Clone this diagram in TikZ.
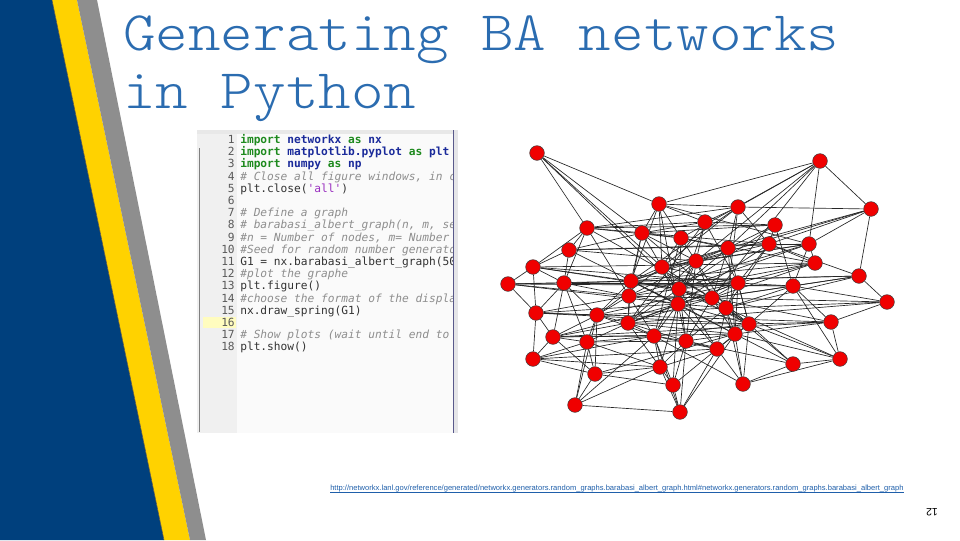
\documentclass[tikz,border=0pt]{standalone}
\usepackage{fontspec}
\setmainfont{Liberation Sans}
\newfontfamily\codefont{DejaVu Sans Mono}
\newfontfamily\titlefont{Latin Modern Mono Light}
\usetikzlibrary{backgrounds}
\definecolor{navyband}{HTML}{00407D}
\definecolor{yellowband}{HTML}{FFD200}
\definecolor{grayband}{HTML}{8E8E8E}
\definecolor{titleblue}{HTML}{2B6CB0}
\definecolor{kwgreen}{HTML}{1E8A1E}
\definecolor{modblue}{HTML}{1A2A9A}
\definecolor{cmgray}{HTML}{8E8E8E}
\definecolor{strpurple}{HTML}{9A30C0}
\definecolor{urlblue}{HTML}{1F5FAA}
\definecolor{vred}{HTML}{F00000}
\newcommand\codekw[1]{\textcolor{kwgreen}{\bfseries #1}}
\newcommand\codemod[1]{\textcolor{modblue}{\bfseries #1}}
\newcommand\codecm[1]{\textcolor{cmgray}{\itshape #1}}
\newcommand\codestr[1]{\textcolor{strpurple}{#1}}
\tikzset{
  vtx/.style={circle,fill=vred,draw=black!75,line width=0.4pt,inner sep=0pt,minimum size=11pt},
  edge/.style={draw=black!85,line width=0.5pt},
  codeline/.style={anchor=base west,inner sep=0pt,font=\codefont\fontsize{8.4}{9}\selectfont,text=black!80},
  lineno/.style={anchor=base east,inner sep=0pt,font=\codefont\fontsize{8.4}{9}\selectfont,text=black!65},
  titletext/.style={anchor=base west,inner sep=0pt,font=\titlefont\fontsize{46.5}{50}\selectfont,text=titleblue}
}
\begin{document}
\begin{tikzpicture}[x=0.75pt,y=-0.75pt]
\useasboundingbox (0,0) rectangle (960,540);
% left bands
\fill[navyband] (0,0) -- (52,0) -- (164,540) -- (0,540) -- cycle;
\fill[yellowband] (52,0) -- (77,0) -- (190,540) -- (164,540) -- cycle;
\fill[grayband] (77,0) -- (97,0) -- (206,540) -- (190,540) -- cycle;
\draw[black!70,line width=0.4pt] (52,0) -- (164,540);
% title
\node[titletext] (t1) at (123,50) {\scalebox{1}[0.9]{Generating BA networks}};
\node[titletext] (t2) at (123,108) {\scalebox{1}[0.9]{in Python}};
% code panel
\fill[black!6] (197,130) rectangle (237,433);
\fill[black!2] (237,130) rectangle (453,433);
\fill[black!9] (197,130) rectangle (453,134);
\fill[yellow!25] (203,317) rectangle (236,328);
\draw[black!50,line width=0.8pt] (199.5,148) -- (199.5,432);
\fill[blue!10!black!10] (454,130) rectangle (458,433);
\draw[blue!30!black!65,line width=1.3pt] (453.5,130) -- (453.5,433);
\begin{scope}
\clip (197,130) rectangle (452.5,433);
\foreach \n in {1,...,18} {
  \node[lineno] (ln\n) at (235,{143.5+(\n-1)*12.2}) {\n};
}
\node[codeline] (c1) at (240,143.5) {\codekw{import} \codemod{networkx} \codekw{as} \codemod{nx}};
\node[codeline] (c2) at (240,155.7) {\codekw{import} \codemod{matplotlib.pyplot} \codekw{as} \codemod{plt}};
\node[codeline] (c3) at (240,167.9) {\codekw{import} \codemod{numpy} \codekw{as} \codemod{np}};
\node[codeline] (c4) at (240,180.1) {\codecm{\# Close all figure windows, in case}};
\node[codeline] (c5) at (240,192.3) {plt.close(\codestr{'all'})};
\node[codeline] (c7) at (240,216.7) {\codecm{\# Define a graph}};
\node[codeline] (c8) at (240,228.9) {\codecm{\# barabasi\_albert\_graph(n, m, seed=None)}};
\node[codeline] (c9) at (240,241.1) {\codecm{\#n = Number of nodes, m= Number of edges}};
\node[codeline] (c10) at (240,253.3) {\codecm{\#Seed for random number generator}};
\node[codeline] (c11) at (240,265.5) {G1 = nx.barabasi\_albert\_graph(50, 5)};
\node[codeline] (c12) at (240,277.7) {\codecm{\#plot the graphe}};
\node[codeline] (c13) at (240,289.9) {plt.figure()};
\node[codeline] (c14) at (240,302.1) {\codecm{\#choose the format of the display}};
\node[codeline] (c15) at (240,314.3) {nx.draw\_spring(G1)};
\node[codeline] (c17) at (240,338.7) {\codecm{\# Show plots (wait until end to avoid}};
\node[codeline] (c18) at (240,350.9) {plt.show()};
\end{scope}
% network
\foreach \i/\x/\y in {1/537/153,2/820/161,3/659/204,4/738/207,5/871/209,6/587/228,7/705/222,8/775/225,9/642/233,10/681/238,
  11/569/250,12/728/248,13/769/244,14/809/244,15/533/267,16/696/261,17/662/267,18/815/263,19/859/276,20/508/284,
  21/564/283,22/631/281,23/679/289,24/738/283,25/793/286,26/629/296,27/712/298,28/678/304,29/726/308,30/887/302,
  31/536/313,32/597/315,33/628/323,34/749/324,35/831/322,36/553/337,37/587/342,38/654/336,39/686/341,40/735/334,
  41/717/349,42/533/359,43/840/359,44/793/364,45/595/374,46/660/367,47/673/385,48/743/384,49/575/405,50/680/412} {
  \node[vtx] (v\i) at (\x,\y) {};
}
\begin{scope}[on background layer]
\foreach \a/\b in {1/3,1/6,1/9,1/17,1/23,
2/3,2/5,2/14,2/4,2/12,2/16,2/10,2/27,
3/4,3/9,3/17,3/22,3/10,3/28,3/7,3/14,
4/5,4/6,4/7,4/12,4/22,4/13,4/17,4/29,
5/19,5/14,5/12,5/16,5/13,
6/7,6/10,6/11,6/15,6/21,6/27,6/26,6/8,6/13,
7/8,7/9,7/16,7/24,7/33,7/28,
8/9,8/13,8/12,8/25,8/23,
9/10,9/22,9/26,9/17,9/34,9/16,
10/12,10/17,10/23,10/29,10/38,10/18,
11/15,11/21,11/9,11/16,11/14,11/28,11/13,
12/16,12/17,12/23,12/27,12/34,12/40,12/22,
13/14,13/16,13/24,13/29,13/28,13/18,
14/16,14/18,14/23,14/25,14/26,14/17,
15/20,15/21,15/22,15/18,15/23,15/31,15/24,
16/17,16/23,16/26,16/27,16/22,16/28,16/33,16/39,
17/22,17/23,17/28,17/27,17/32,17/24,
18/22,18/23,18/27,18/24,
19/30,19/25,19/13,19/27,19/29,19/21,19/22,
20/21,20/22,20/26,20/31,20/28,20/25,
21/31,21/36,21/32,21/26,21/24,21/25,21/37,
22/26,22/28,22/23,22/33,22/32,22/27,22/40,
23/28,23/27,23/29,23/24,23/26,23/33,23/34,23/38,23/39,23/41,
24/29,24/25,24/34,24/27,24/28,24/40,24/33,
25/27,25/29,25/35,25/34,25/30,25/43,
26/28,26/32,26/33,26/27,26/38,26/30,
27/28,27/29,27/34,27/39,27/40,27/35,27/33,
28/29,28/33,28/38,28/39,28/34,28/41,28/40,28/36,28/46,28/47,
29/34,29/40,29/41,29/39,29/30,29/44,29/43,29/48,
30/35,30/33,
31/32,31/36,31/26,31/35,31/28,31/34,
32/33,32/37,32/36,32/45,32/29,32/24,32/49,32/38,
33/38,33/39,33/37,33/46,33/34,33/40,33/36,
34/35,34/40,34/41,34/44,34/43,34/48,34/38,
35/43,35/40,35/36,
36/37,36/42,36/38,36/40,36/45,
37/38,37/45,37/42,37/49,37/46,37/39,
38/39,38/46,38/47,38/49,38/50,38/41,38/48,
39/40,39/41,39/46,39/47,39/50,39/44,
40/41,40/44,40/48,40/43,40/50,40/45,
41/48,41/46,41/50,41/47,
42/45,42/31,42/46,42/38,42/41,
43/44,43/48,44/48,
45/49,45/46,45/47,
46/47,46/49,46/50,47/50,49/50} {
  \draw[edge] (v\a) -- (v\b);
}
\end{scope}
% url
\node[anchor=base west,inner sep=0pt,text=urlblue] (url) at (330,490) {\resizebox{430pt}{!}{\underline{http://networkx.lanl.gov/reference/generated/networkx.generators.random\_graphs.barabasi\_albert\_graph.html\#networkx.generators.random\_graphs.barabasi\_albert\_graph}}};
% page number
\node[rotate=180,inner sep=0pt,font=\fontsize{8}{9}\selectfont] (pg) at (932,512) {12};
\end{tikzpicture}
\end{document}
